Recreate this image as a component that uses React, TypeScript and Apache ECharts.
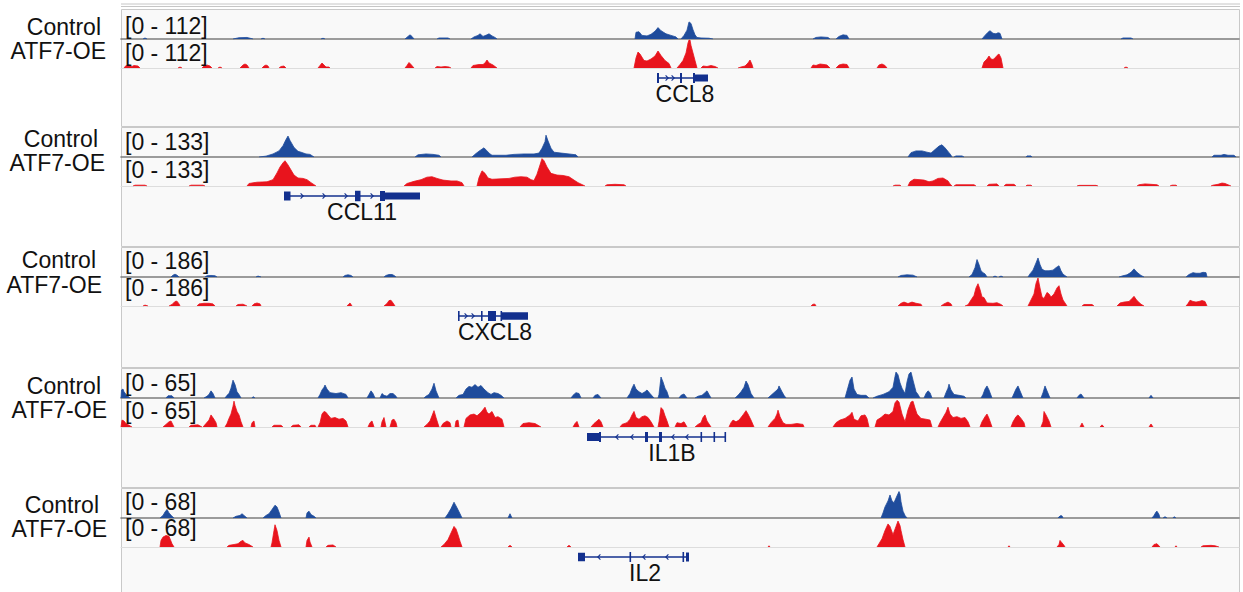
import React, { useEffect, useRef } from "react";
import * as echarts from "echarts";

// ---------------- data ----------------
const TRACK_MAX = [112, 133, 186, 65, 68];
const GENE_NAMES = ["CCL8", "CCL11", "CXCL8", "IL1B", "IL2"];
const SAMPLE_NAMES = ["Control", "ATF7-OE"];
const LOCUS_LENGTH = 1118; // bins across each locus window

// coverage peaks, each point = [bin, reads]
const ccl8Control = [
  [[22, 0], [24, 4], [26, 0]],
  [[112, 0], [118, 5], [126, 6], [132, 0]],
  [[140, 0], [142, 3], [144, 0]],
  [[200, 0], [202, 3], [204, 0]],
  [[284, 0], [287, 10], [289, 16], [291, 10], [293, 0]],
  [[316, 0], [318, 4], [327, 4], [329, 0]],
  [[350, 0], [353, 8], [357, 14], [359, 20], [362, 10], [366, 16], [368, 20], [371, 12], [374, 6], [376, 0]],
  [[514, 0], [515, 26], [518, 28], [521, 14], [526, 12], [530, 18], [534, 30], [537, 44], [540, 32], [545, 20], [550, 14], [555, 8], [557, 0]],
  [[560, 0], [563, 14], [566, 34], [568, 66], [570, 60], [572, 36], [574, 16], [576, 6], [580, 4], [588, 3], [592, 0]],
  [[692, 0], [695, 6], [700, 8], [707, 6], [709, 0]],
  [[715, 0], [718, 10], [722, 16], [726, 14], [728, 0]],
  [[861, 0], [864, 14], [867, 26], [869, 32], [872, 22], [875, 20], [877, 24], [879, 22], [881, 0]],
  [[1000, 0], [1002, 4], [1010, 4], [1012, 0]],
];
const ccl8Atf7 = [
  [[3, 0], [5, 10], [8, 12], [11, 6], [13, 10], [17, 8], [19, 0]],
  [[57, 0], [59, 4], [61, 0]],
  [[81, 0], [83, 8], [86, 12], [89, 8], [91, 0]],
  [[97, 0], [99, 4], [101, 0]],
  [[119, 0], [122, 12], [124, 16], [126, 12], [128, 0]],
  [[141, 0], [143, 8], [145, 12], [147, 8], [148, 0]],
  [[158, 0], [160, 6], [163, 8], [165, 0]],
  [[197, 0], [199, 10], [201, 20], [203, 12], [205, 4], [208, 4], [209, 0]],
  [[284, 0], [286, 10], [288, 22], [290, 14], [293, 0]],
  [[314, 0], [316, 6], [320, 4], [324, 6], [328, 4], [330, 0]],
  [[350, 0], [352, 10], [358, 14], [362, 14], [364, 20], [366, 32], [368, 20], [372, 12], [376, 0]],
  [[513, 0], [515, 40], [517, 64], [519, 56], [523, 30], [526, 28], [530, 36], [534, 48], [537, 68], [540, 50], [544, 30], [548, 18], [550, 0]],
  [[556, 0], [559, 14], [562, 30], [565, 60], [567, 100], [568, 112], [569, 112], [570, 90], [572, 60], [574, 30], [576, 0]],
  [[580, 0], [582, 8], [586, 6], [590, 10], [594, 6], [597, 0]],
  [[617, 0], [620, 4], [624, 8], [627, 20], [629, 32], [631, 14], [632, 0]],
  [[690, 0], [692, 12], [695, 10], [699, 16], [703, 14], [706, 12], [709, 0]],
  [[715, 0], [718, 12], [722, 16], [726, 14], [728, 0]],
  [[756, 0], [758, 12], [761, 16], [764, 10], [766, 0]],
  [[861, 0], [863, 24], [866, 36], [868, 48], [870, 36], [872, 34], [874, 40], [876, 50], [878, 56], [880, 40], [882, 0]],
  [[1003, 0], [1005, 4], [1007, 0]],
];

const ccl11Control = [
  [[138, 0], [145, 4], [152, 14], [158, 28], [162, 52], [165, 80], [167, 96], [169, 76], [173, 44], [177, 26], [180, 22], [185, 14], [189, 12], [193, 0]],
  [[294, 0], [297, 10], [305, 14], [312, 12], [318, 8], [320, 0]],
  [[351, 0], [355, 16], [359, 30], [363, 42], [366, 28], [369, 14], [371, 8], [375, 8], [385, 8], [393, 12], [403, 14], [413, 14], [418, 18], [421, 40], [424, 70], [425, 100], [427, 74], [430, 40], [433, 22], [440, 18], [448, 14], [455, 10], [457, 0]],
  [[787, 0], [790, 20], [795, 28], [801, 28], [806, 22], [810, 18], [814, 34], [818, 50], [821, 56], [824, 42], [828, 20], [830, 8], [831, 0]],
  [[833, 0], [835, 5], [841, 5], [843, 0]],
  [[905, 0], [906, 5], [910, 5], [911, 0]],
  [[1091, 0], [1093, 8], [1100, 8], [1103, 12], [1107, 8], [1113, 8], [1115, 0]],
];
const ccl11Atf7 = [
  [[12, 0], [14, 4], [24, 4], [26, 0]],
  [[68, 0], [70, 4], [82, 4], [84, 0]],
  [[126, 0], [128, 12], [136, 18], [146, 20], [152, 30], [156, 62], [159, 90], [162, 110], [164, 120], [167, 100], [170, 76], [173, 52], [177, 38], [182, 36], [186, 30], [190, 16], [195, 0]],
  [[283, 0], [286, 12], [293, 22], [300, 30], [306, 42], [311, 44], [316, 36], [322, 28], [330, 24], [336, 24], [341, 16], [343, 0]],
  [[356, 0], [358, 40], [361, 72], [364, 60], [367, 38], [371, 32], [380, 34], [388, 36], [394, 42], [400, 44], [406, 42], [410, 30], [413, 26], [416, 56], [419, 100], [421, 130], [423, 120], [426, 90], [430, 60], [436, 52], [442, 50], [448, 44], [453, 28], [457, 16], [464, 0]],
  [[484, 0], [486, 6], [494, 8], [503, 6], [505, 0]],
  [[772, 0], [774, 4], [779, 4], [780, 0]],
  [[787, 0], [789, 20], [793, 32], [799, 30], [803, 28], [808, 20], [812, 24], [817, 36], [822, 38], [827, 24], [829, 10], [831, 0]],
  [[833, 0], [835, 6], [853, 6], [855, 0]],
  [[866, 0], [868, 8], [876, 10], [878, 0]],
  [[883, 0], [885, 8], [893, 8], [895, 0]],
  [[905, 0], [906, 4], [910, 4], [911, 0]],
  [[956, 0], [958, 3], [975, 3], [977, 0]],
  [[1016, 0], [1018, 6], [1024, 10], [1030, 8], [1036, 6], [1038, 0]],
  [[1049, 0], [1051, 4], [1055, 4], [1056, 0]],
  [[1090, 0], [1092, 4], [1097, 8], [1101, 14], [1104, 12], [1108, 4], [1110, 0]],
];

const cxcl8Control = [
  [[50, 0], [52, 12], [54, 18], [56, 12], [58, 0]],
  [[84, 0], [86, 8], [90, 10], [94, 8], [96, 0]],
  [[135, 0], [137, 6], [140, 0]],
  [[222, 0], [224, 10], [227, 14], [230, 10], [232, 0]],
  [[263, 0], [265, 10], [268, 16], [271, 16], [273, 10], [275, 0]],
  [[777, 0], [780, 10], [786, 14], [792, 12], [796, 0]],
  [[848, 0], [851, 16], [854, 60], [856, 112], [858, 80], [860, 40], [862, 28], [864, 20], [866, 0]],
  [[872, 0], [874, 6], [876, 0]],
  [[878, 0], [880, 6], [882, 0]],
  [[907, 0], [909, 20], [912, 44], [915, 90], [917, 122], [919, 80], [921, 50], [924, 40], [928, 40], [932, 44], [935, 60], [938, 72], [940, 40], [942, 18], [946, 0]],
  [[998, 0], [1002, 8], [1006, 14], [1010, 30], [1013, 52], [1016, 30], [1020, 10], [1023, 0]],
  [[1065, 0], [1068, 16], [1072, 28], [1075, 24], [1079, 24], [1082, 30], [1085, 28], [1086, 0]],
];
const cxcl8Atf7 = [
  [[22, 0], [24, 6], [27, 0]],
  [[48, 0], [51, 10], [54, 30], [56, 32], [58, 14], [59, 0]],
  [[76, 0], [78, 14], [83, 18], [88, 18], [92, 14], [94, 0]],
  [[115, 0], [117, 10], [122, 12], [126, 0]],
  [[131, 0], [133, 14], [136, 20], [139, 14], [140, 0]],
  [[226, 0], [228, 14], [229, 20], [231, 0]],
  [[263, 0], [266, 16], [268, 36], [270, 38], [272, 20], [274, 0]],
  [[690, 0], [692, 12], [694, 12], [695, 0]],
  [[777, 0], [780, 18], [783, 26], [787, 16], [791, 26], [795, 18], [800, 12], [801, 0]],
  [[820, 0], [823, 14], [827, 26], [830, 14], [831, 0]],
  [[844, 0], [847, 8], [850, 40], [853, 70], [855, 120], [857, 148], [859, 110], [861, 60], [863, 56], [866, 20], [872, 18], [876, 22], [880, 10], [882, 0]],
  [[907, 0], [910, 40], [913, 80], [915, 150], [917, 186], [919, 120], [921, 60], [923, 50], [926, 90], [928, 80], [930, 60], [933, 80], [936, 120], [938, 135], [940, 80], [942, 40], [944, 20], [946, 0]],
  [[961, 0], [963, 10], [971, 10], [973, 0]],
  [[996, 0], [999, 20], [1003, 26], [1008, 30], [1011, 50], [1013, 64], [1016, 36], [1020, 12], [1023, 0]],
  [[1065, 0], [1067, 16], [1069, 38], [1072, 30], [1075, 26], [1078, 30], [1081, 36], [1084, 30], [1086, 0]],
];

const il1bControl = [
  [[0, 0], [0.5, 18], [2, 20], [3, 14], [5, 8], [7, 4], [9, 0]],
  [[45, 0], [47, 5], [51, 5], [53, 0]],
  [[83, 0], [86, 4], [88, 8], [90, 16], [92, 10], [94, 0]],
  [[104, 0], [106, 6], [108, 10], [110, 22], [112, 40], [114, 30], [116, 14], [118, 8], [120, 0]],
  [[131, 0], [132, 3], [134, 0]],
  [[197, 0], [199, 8], [201, 18], [203, 24], [204, 29], [206, 20], [209, 12], [215, 10], [220, 12], [225, 8], [227, 0]],
  [[246, 0], [248, 8], [250, 16], [252, 10], [254, 0]],
  [[259, 0], [261, 10], [263, 6], [266, 4], [269, 10], [272, 10], [275, 4], [276, 0]],
  [[303, 0], [305, 4], [308, 8], [311, 20], [313, 33], [315, 16], [318, 0]],
  [[335, 0], [338, 6], [342, 8], [345, 20], [348, 26], [351, 24], [354, 30], [357, 24], [360, 28], [363, 20], [367, 12], [370, 8], [373, 12], [377, 10], [380, 6], [383, 0]],
  [[450, 0], [452, 6], [455, 12], [458, 10], [460, 0]],
  [[472, 0], [474, 6], [477, 8], [480, 0]],
  [[506, 0], [509, 10], [511, 22], [513, 31], [515, 20], [518, 14], [521, 10], [524, 14], [526, 18], [529, 10], [533, 0]],
  [[537, 0], [538, 8], [540, 47], [542, 36], [544, 22], [546, 14], [548, 0]],
  [[558, 0], [560, 6], [563, 9], [566, 0]],
  [[574, 0], [577, 4], [581, 6], [584, 12], [586, 16], [588, 8], [590, 0]],
  [[614, 0], [617, 6], [620, 14], [623, 24], [625, 38], [627, 30], [630, 10], [633, 0]],
  [[647, 0], [650, 6], [654, 14], [657, 20], [658, 27], [661, 14], [663, 6], [665, 0]],
  [[724, 0], [727, 24], [729, 40], [731, 47], [733, 20], [736, 8], [740, 6], [745, 6], [748, 0]],
  [[752, 0], [756, 4], [762, 8], [768, 14], [772, 24], [774, 48], [775, 58], [777, 52], [779, 34], [781, 22], [784, 10], [786, 36], [788, 54], [790, 58], [792, 40], [795, 14], [797, 8], [799, 0]],
  [[803, 0], [805, 10], [807, 16], [809, 12], [811, 0]],
  [[823, 0], [825, 12], [827, 22], [828, 31], [830, 18], [833, 8], [838, 6], [843, 4], [845, 0]],
  [[860, 0], [862, 8], [864, 20], [866, 27], [868, 18], [871, 0]],
  [[891, 0], [893, 10], [895, 20], [897, 27], [899, 16], [902, 0]],
  [[920, 0], [922, 12], [924, 27], [926, 16], [929, 0]],
  [[956, 0], [958, 6], [960, 9], [963, 0]],
  [[1028, 0], [1030, 6], [1032, 0]],
];
const il1bAtf7 = [
  [[0, 0], [1, 16], [3, 14], [5, 8], [8, 4], [11, 0]],
  [[42, 0], [45, 6], [48, 12], [50, 14], [53, 0]],
  [[68, 0], [70, 4], [77, 5], [81, 0]],
  [[82, 0], [85, 8], [88, 16], [90, 28], [93, 18], [95, 10], [96, 0]],
  [[104, 0], [106, 8], [108, 20], [110, 30], [112, 48], [113, 60], [114, 50], [116, 36], [118, 28], [120, 12], [122, 0]],
  [[130, 0], [131, 10], [133, 14], [134, 0]],
  [[151, 0], [153, 4], [160, 4], [162, 0]],
  [[170, 0], [172, 4], [178, 5], [180, 0]],
  [[188, 0], [190, 4], [194, 4], [195, 0]],
  [[197, 0], [199, 10], [201, 30], [203, 36], [205, 34], [207, 28], [210, 20], [214, 22], [218, 18], [222, 20], [225, 14], [227, 0]],
  [[247, 0], [249, 10], [251, 14], [253, 0]],
  [[260, 0], [261, 12], [263, 22], [265, 0]],
  [[269, 0], [271, 16], [273, 18], [275, 10], [276, 0]],
  [[303, 0], [306, 6], [309, 14], [311, 26], [313, 38], [315, 22], [318, 0]],
  [[320, 0], [322, 8], [326, 14], [329, 10], [330, 0]],
  [[334, 0], [335, 14], [337, 16], [338, 0]],
  [[343, 0], [345, 20], [349, 28], [353, 30], [356, 26], [360, 34], [362, 40], [364, 46], [366, 34], [368, 30], [371, 36], [374, 22], [377, 24], [381, 18], [383, 0]],
  [[399, 0], [402, 8], [408, 10], [414, 8], [420, 0]],
  [[452, 0], [454, 8], [456, 13], [458, 0]],
  [[470, 0], [473, 8], [476, 14], [478, 18], [480, 12], [482, 0]],
  [[499, 0], [501, 6], [506, 10], [509, 18], [511, 28], [513, 36], [515, 22], [518, 18], [521, 24], [524, 26], [527, 22], [530, 12], [533, 0]],
  [[537, 0], [538, 12], [540, 45], [542, 40], [544, 26], [546, 14], [548, 0]],
  [[554, 0], [556, 10], [560, 8], [563, 12], [566, 0]],
  [[574, 0], [577, 6], [580, 10], [582, 22], [584, 28], [586, 14], [590, 0]],
  [[608, 0], [610, 10], [612, 16], [615, 12], [618, 16], [622, 28], [625, 38], [627, 30], [630, 16], [633, 0]],
  [[647, 0], [650, 10], [654, 20], [656, 30], [657, 39], [659, 24], [662, 10], [665, 6], [670, 6], [676, 8], [682, 6], [683, 0]],
  [[712, 0], [715, 10], [719, 16], [724, 20], [729, 28], [731, 34], [733, 18], [737, 14], [740, 26], [744, 28], [746, 20], [748, 0]],
  [[754, 0], [756, 16], [760, 22], [764, 30], [768, 28], [772, 36], [774, 56], [776, 62], [778, 58], [781, 30], [784, 12], [787, 40], [790, 58], [792, 60], [794, 44], [796, 30], [800, 20], [805, 18], [809, 16], [811, 0]],
  [[817, 0], [819, 10], [822, 22], [825, 34], [827, 46], [829, 30], [832, 22], [836, 24], [840, 20], [844, 22], [847, 12], [849, 0]],
  [[859, 0], [861, 12], [864, 24], [866, 30], [868, 20], [871, 0]],
  [[890, 0], [892, 12], [895, 24], [897, 28], [900, 20], [903, 10], [904, 0]],
  [[920, 0], [922, 12], [923, 36], [925, 28], [928, 14], [930, 0]],
  [[959, 0], [961, 9], [963, 0]],
  [[979, 0], [981, 5], [983, 0]],
  [[1028, 0], [1030, 7], [1032, 0]],
];

const il2Control = [
  [[39, 0], [42, 6], [44, 14], [46, 20], [48, 12], [51, 4], [53, 0]],
  [[112, 0], [115, 4], [119, 6], [121, 10], [123, 6], [126, 0]],
  [[142, 0], [145, 6], [148, 10], [151, 20], [154, 30], [156, 26], [158, 14], [160, 0]],
  [[185, 0], [186, 12], [188, 16], [190, 8], [193, 4], [195, 0]],
  [[324, 0], [327, 10], [330, 22], [333, 37], [336, 24], [339, 10], [341, 0]],
  [[387, 0], [389, 10], [391, 0]],
  [[760, 0], [762, 12], [764, 26], [767, 40], [769, 54], [771, 40], [773, 36], [776, 52], [778, 62], [779, 56], [780, 38], [782, 16], [784, 6], [786, 0]],
  [[937, 0], [939, 5], [941, 5], [942, 0]],
  [[1031, 0], [1033, 6], [1035, 14], [1036, 16], [1038, 8], [1039, 0]],
  [[1042, 0], [1044, 3], [1046, 0]],
  [[1052, 0], [1053, 3], [1055, 0]],
];
const il2Atf7 = [
  [[39, 0], [40, 16], [42, 24], [45, 28], [48, 26], [51, 8], [53, 0]],
  [[106, 0], [108, 4], [113, 6], [117, 8], [120, 14], [122, 16], [124, 10], [128, 6], [132, 0]],
  [[150, 0], [151, 10], [153, 40], [154, 54], [156, 40], [158, 16], [160, 0]],
  [[185, 0], [186, 16], [188, 24], [189, 12], [191, 0]],
  [[205, 0], [207, 4], [212, 5], [215, 0]],
  [[320, 0], [323, 6], [327, 18], [330, 34], [333, 50], [335, 44], [337, 30], [339, 14], [341, 0]],
  [[387, 0], [389, 4], [391, 0]],
  [[446, 0], [448, 4], [450, 0]],
  [[647, 0], [648, 3], [649, 0]],
  [[756, 0], [758, 8], [761, 20], [764, 40], [767, 56], [769, 50], [772, 30], [775, 50], [777, 63], [779, 52], [780, 40], [782, 18], [784, 0]],
  [[887, 0], [888, 3], [889, 0]],
  [[936, 0], [938, 6], [939, 16], [941, 10], [943, 4], [944, 0]],
  [[1031, 0], [1033, 6], [1036, 8], [1039, 0]],
  [[1054, 0], [1055, 3], [1056, 0]],
  [[1080, 0], [1082, 3], [1090, 4], [1094, 3], [1098, 0]],
];

// gene models: exon = [start, end, relative height]
const ccl8Exons = [[536, 538, 1], [559, 561, 1], [572, 574, 1], [574, 587, 0.7]];
const ccl11Exons = [[163, 169.5, 0.9], [234, 239.5, 1.05], [259, 264, 1], [264, 299, 0.7]];
const cxcl8Exons = [[337, 338.5, 1], [360, 361.5, 1], [367, 375, 1], [379.5, 381, 1], [381, 407, 0.75]];
const il1bExons = [[466, 478, 0.8], [478, 480, 1], [524, 527, 1], [538, 541, 1], [579.5, 581, 1], [592.5, 594, 1], [603.5, 605, 1]];
const il2Exons = [[457, 464, 0.85], [508.5, 510, 1], [561.5, 563, 1], [565, 568, 0.9]];
const geneSpans = [[536, 587], [163, 299], [337, 407], [466, 605], [457, 568]];
const geneStrand = [1, 1, 1, -1, -1];
const geneMarks = [[546, 552], [181, 203, 225, 251], [345, 352, 372], [496, 511, 552, 566], [478, 523, 546]];
const geneLabelAt = [564, 241, 374, 551, 524];

// ---------------- layout / style ----------------
const BLUE = "#1f4c9c";
const RED = "#e8141d";
const GENE_COLOR = "#13308e";
const FONT = '"Liberation Sans", Arial, Helvetica, sans-serif';
const LEFT = 121;
const PLOT_W = 1118;
const PANEL_TOP = [9, 127, 247, 368, 488];
const PANEL_BOTTOM = [126, 246, 367, 487, 600];
const CTRL_LABEL = [[101, 27], [98, 139], [96, 259.5], [101, 386], [99, 504.5]];
const ATF_LABEL = [[106, 51], [105, 163], [102, 284.5], [107, 410], [107, 528.5]];
const RANGE_Y = [[25.5, 53], [141.7, 170], [261, 288], [382.7, 411], [501.7, 528]];

const coverage = [
  [ccl8Control, ccl8Atf7],
  [ccl11Control, ccl11Atf7],
  [cxcl8Control, cxcl8Atf7],
  [il1bControl, il1bAtf7],
  [il2Control, il2Atf7],
];
const geneExons = [ccl8Exons, ccl11Exons, cxcl8Exons, il1bExons, il2Exons];

function flatten(peaks: number[][][]) {
  const out: any[] = [];
  peaks.forEach((pk, i) => {
    if (i > 0) out.push([pk[0][0], "-"]);
    pk.forEach((p) => out.push(p));
  });
  return out;
}

function txt(text: string, x: number, y: number, align: string, size: number) {
  return {
    type: "text",
    z: 100,
    style: {
      text, x, y,
      font: `${size}px ${FONT}`,
      fill: "#111",
      textAlign: align, textVerticalAlign: "middle",
      align, verticalAlign: "middle",
    },
  };
}

export default function App() {
  const ref = useRef<HTMLDivElement>(null);
  useEffect(() => {
    document.body.style.margin = "0";
    const chart = echarts.init(ref.current as HTMLDivElement, null, { renderer: "svg" });
    const grid: any[] = [];
    const xAxis: any[] = [];
    const yAxis: any[] = [];
    const series: any[] = [];
    const graphic: any[] = [];

    graphic.push({ type: "line", z: 1, shape: { x1: LEFT, y1: 4, x2: LEFT + PLOT_W + 1, y2: 4 }, style: { stroke: "#c6c6c6", lineWidth: 1 } });
    graphic.push({ type: "line", z: 1, shape: { x1: LEFT, y1: 6.5, x2: LEFT + PLOT_W + 1, y2: 6.5 }, style: { stroke: "#c6c6c6", lineWidth: 1 } });

    PANEL_TOP.forEach((T, p) => {
      graphic.push({
        type: "rect", z: 0,
        shape: { x: LEFT + 0.5, y: T + 0.5, width: PLOT_W, height: PANEL_BOTTOM[p] - T },
        style: { fill: "#f9f9f9", stroke: "#c9c9c9", lineWidth: 1 },
      });
      graphic.push(txt(SAMPLE_NAMES[0], CTRL_LABEL[p][0], CTRL_LABEL[p][1], "right", 23));
      graphic.push(txt(SAMPLE_NAMES[1], ATF_LABEL[p][0], ATF_LABEL[p][1], "right", 23));
      graphic.push(txt(`[0 - ${TRACK_MAX[p]}]`, 125, RANGE_Y[p][0], "left", 23));
      graphic.push(txt(`[0 - ${TRACK_MAX[p]}]`, 125, RANGE_Y[p][1], "left", 23));

      [0, 1].forEach((s) => {
        const gi = grid.length;
        const color = s === 0 ? BLUE : RED;
        grid.push({ left: LEFT, top: s === 0 ? T + 1 : T + 31, width: PLOT_W, height: s === 0 ? 29 : 28 });
        xAxis.push({
          type: "value", gridIndex: gi, min: 0, max: LOCUS_LENGTH, z: 3,
          axisLine: { show: true, onZero: false, lineStyle: { color: s === 0 ? "#7c7c7c" : "#dddddd", width: s === 0 ? 1.6 : 1 } },
          axisTick: { show: false }, axisLabel: { show: false }, splitLine: { show: false },
        });
        yAxis.push({ type: "value", gridIndex: gi, min: 0, max: TRACK_MAX[p], show: false });
        series.push({
          type: "line", xAxisIndex: gi, yAxisIndex: gi, z: 4,
          data: flatten(coverage[p][s] as any),
          symbol: "none", silent: true, connectNulls: false,
          lineStyle: { color, width: 0.8 },
          areaStyle: { color, opacity: 1 },
        });
      });

      const gg = grid.length;
      grid.push({ left: LEFT, top: T + 59, width: PLOT_W, height: 20 });
      xAxis.push({ type: "value", gridIndex: gg, min: 0, max: LOCUS_LENGTH, show: false });
      yAxis.push({ type: "value", gridIndex: gg, min: -1, max: 1, show: false });
      const items: any[] = [];
      items.push([0, geneSpans[p][0], geneSpans[p][1], 0]);
      geneExons[p].forEach((e) => items.push([1, e[0], e[1], e[2]]));
      geneMarks[p].forEach((m) => items.push([2, m, m, geneStrand[p]]));
      items.push([3, geneLabelAt[p], geneLabelAt[p], 0]);
      series.push({
        type: "custom", xAxisIndex: gg, yAxisIndex: gg, z: 5, silent: true,
        encode: { x: [1, 2], y: 3 },
        data: items,
        renderItem: (params: any, api: any) => {
          const kind = api.value(0);
          const a = api.coord([api.value(1), 0]);
          const b = api.coord([api.value(2), 0]);
          const h = api.value(3);
          if (kind === 0) {
            return { type: "line", shape: { x1: a[0], y1: a[1], x2: b[0], y2: b[1] }, style: { stroke: GENE_COLOR, lineWidth: 1.6 } };
          }
          if (kind === 1) {
            const hh = h * 10;
            return { type: "rect", shape: { x: a[0], y: a[1] - hh / 2, width: Math.max(b[0] - a[0], 1.6), height: hh }, style: { fill: GENE_COLOR } };
          }
          if (kind === 2) {
            const d = h;
            return {
              type: "polyline",
              shape: { points: [[a[0] - 1.4 * d, a[1] - 2.6], [a[0] + 1.2 * d, a[1]], [a[0] - 1.4 * d, a[1] + 2.6]] },
              style: { stroke: GENE_COLOR, lineWidth: 1.1, fill: "none" },
            };
          }
          return {
            type: "text",
            style: {
              text: GENE_NAMES[p], x: a[0], y: a[1] + 16,
              font: `23px ${FONT}`, fill: "#111",
              textAlign: "center", textVerticalAlign: "middle",
              align: "center", verticalAlign: "middle",
            },
          };
        },
      });
    });

    chart.setOption({
      animation: false,
      backgroundColor: "#ffffff",
      textStyle: { fontFamily: FONT },
      grid, xAxis, yAxis, series, graphic,
    });
    return () => chart.dispose();
  }, []);
  return <div ref={ref} style={{ position: "fixed", left: 0, top: 0, width: 1243, height: 592 }} />;
}
